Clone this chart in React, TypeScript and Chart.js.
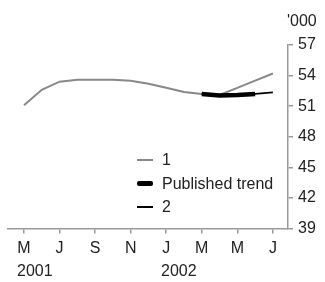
import React, { useEffect, useRef } from "react";
import { Chart, registerables } from "chart.js";

Chart.register(...registerables);

// Month index 0 = May 2001 ... 14 = Jul 2002
const monthLetters = ["M", "J", "J", "A", "S", "O", "N", "D", "J", "F", "M", "A", "M", "J", "J"];
const tickMonths = [0, 2, 4, 6, 8, 10, 12, 14];
const yTicks = [39, 42, 45, 48, 51, 54, 57];

const series1Months = [0, 1, 2, 3, 4, 5, 6, 7, 8, 9, 10, 11, 12, 13, 14];
const series1Values = [51.1, 52.6, 53.4, 53.6, 53.6, 53.6, 53.5, 53.2, 52.8, 52.4, 52.2, 52.1, 52.8, 53.5, 54.2];

const trendMonths = [10, 11, 12, 13];
const trendValues = [52.2, 52.05, 52.1, 52.2];

const series2Months = [10, 11, 12, 13, 14];
const series2Values = [52.2, 52.05, 52.1, 52.2, 52.35];

const FONT = "'Liberation Sans', Arial, sans-serif";
const FS = 16;
const TEXT = "#222";
const AXIS = "#999";

function pts(xs: number[], ys: number[]) {
  return xs.map((x, i) => ({ x, y: ys[i] }));
}

export default function App() {
  const ref = useRef<HTMLCanvasElement | null>(null);
  useEffect(() => {
    if (!ref.current) return;
    const chart = new Chart(ref.current, {
      type: "line",
      data: {
        datasets: [
          {
            label: "1",
            data: pts(series1Months, series1Values),
            borderColor: "#888",
            borderWidth: 2,
            pointRadius: 0,
            tension: 0,
            order: 3,
          },
          {
            label: "Published trend",
            data: pts(trendMonths, trendValues),
            borderColor: "#000",
            borderWidth: 4.5,
            pointRadius: 0,
            tension: 0,
            order: 2,
          },
          {
            label: "2",
            data: pts(series2Months, series2Values),
            borderColor: "#000",
            borderWidth: 1.8,
            pointRadius: 0,
            tension: 0,
            order: 1,
          },
        ],
      },
      options: {
        animation: false,
        responsive: false,
        events: [],
        layout: { padding: { left: 8, top: 45, right: 0, bottom: 0 } },
        plugins: { legend: { display: false }, tooltip: { enabled: false } },
        scales: {
          x: {
            type: "linear",
            min: -0.9,
            max: 14.85,
            afterBuildTicks: (s: any) => {
              s.ticks = tickMonths.map((v) => ({ value: v }));
            },
            afterFit: (s: any) => {
              s.height = 53.5;
            },
            ticks: {
              autoSkip: false,
              maxRotation: 0,
              padding: 5,
              color: TEXT,
              font: { family: FONT, size: FS },
              callback: (v: any) => monthLetters[Number(v)] ?? "",
            },
            grid: {
              drawOnChartArea: false,
              drawTicks: true,
              tickLength: 5,
              color: AXIS,
              lineWidth: 1.5,
            },
            border: { color: AXIS, width: 1.5 },
          },
          y: {
            position: "right",
            min: 39,
            max: 57,
            afterBuildTicks: (s: any) => {
              s.ticks = yTicks.map((v) => ({ value: v }));
            },
            afterFit: (s: any) => {
              s.width = 37;
            },
            ticks: {
              padding: 5,
              color: TEXT,
              font: { family: FONT, size: FS },
            },
            grid: {
              drawOnChartArea: false,
              drawTicks: true,
              tickLength: 5,
              color: AXIS,
              lineWidth: 1.5,
            },
            border: { color: AXIS, width: 1.5 },
          },
        },
      },
    });
    return () => chart.destroy();
  }, []);

  const txt: React.CSSProperties = {
    position: "absolute",
    fontFamily: FONT,
    fontSize: FS,
    color: TEXT,
    lineHeight: "18px",
    whiteSpace: "nowrap",
  };
  const legendRows = [
    { label: "1", color: "#888", h: 2, y: 160 },
    { label: "Published trend", color: "#000", h: 4.5, y: 183.5 },
    { label: "2", color: "#000", h: 2, y: 207 },
  ];

  return (
    <div style={{ position: "absolute", left: 0, top: 0, width: 325, height: 282 }}>
      <canvas ref={ref} width={325} height={282} style={{ display: "block" }} />
      <span style={{ ...txt, left: 287, top: 12 }}>'000</span>
      <span style={{ ...txt, left: 17, top: 262 }}>2001</span>
      <span style={{ ...txt, left: 161, top: 262 }}>2002</span>
      {legendRows.map((r) => (
        <React.Fragment key={r.label}>
          <div
            style={{
              position: "absolute",
              left: 137,
              top: r.y - r.h / 2,
              width: 16,
              height: r.h,
              background: r.color,
              borderRadius: r.h > 3 ? 2 : 0,
            }}
          />
          <span style={{ ...txt, left: 162, top: r.y - 9 }}>{r.label}</span>
        </React.Fragment>
      ))}
    </div>
  );
}
